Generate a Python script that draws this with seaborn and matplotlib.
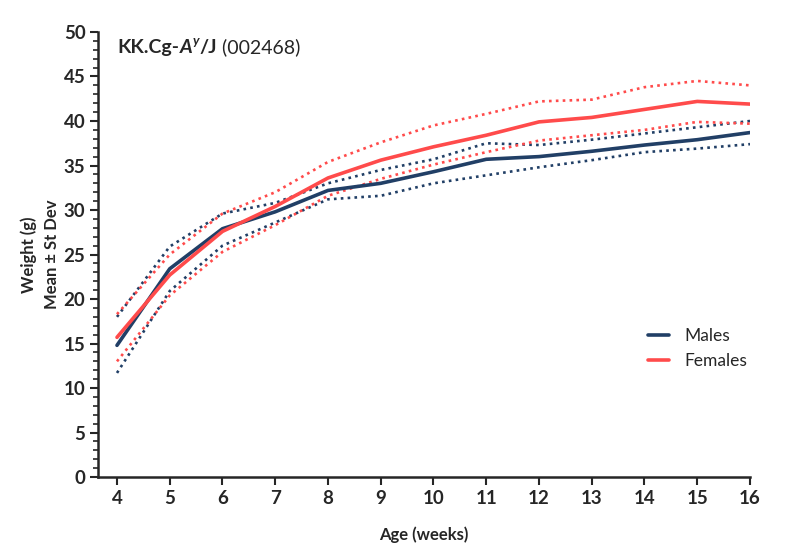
import numpy as np
import pandas as pd
import matplotlib
matplotlib.use('Agg')
import matplotlib.pyplot as plt
import seaborn as sns

# valores
weeks = [4, 5, 6, 7, 8, 9, 10, 11, 12, 13, 14, 15, 16]
males_mean = [14.8, 23.4, 27.9, 29.8, 32.2, 33.0, 34.3, 35.7, 36.0, 36.6, 37.3, 37.9, 38.7]
males_upper = [18.0, 25.9, 29.6, 30.8, 33.0, 34.5, 35.7, 37.5, 37.3, 37.9, 38.6, 39.3, 40.0]
males_lower = [11.7, 20.9, 26.0, 28.6, 31.2, 31.6, 33.0, 33.9, 34.8, 35.6, 36.5, 36.9, 37.4]
females_mean = [15.7, 22.7, 27.6, 30.4, 33.6, 35.6, 37.1, 38.4, 39.9, 40.4, 41.3, 42.2, 41.9]
females_upper = [18.3, 25.0, 29.6, 32.0, 35.4, 37.6, 39.5, 40.8, 42.2, 42.4, 43.8, 44.5, 44.0]
females_lower = [13.0, 20.4, 25.3, 28.3, 31.6, 33.5, 35.1, 36.5, 37.8, 38.4, 39.0, 39.9, 39.7]

navy = '#213f66'
red = '#ff4b4b'

sns.set_style('ticks')
plt.rcParams['font.family'] = ['Lato', 'DejaVu Sans']

df = pd.DataFrame({
    'week': weeks * 2,
    'weight': males_mean + females_mean,
    'sex': ['Males'] * len(weeks) + ['Females'] * len(weeks),
})

fig = plt.figure(figsize=(8, 5.58), dpi=100)
ax = fig.add_axes([0.1225, 0.145, 0.815, 0.7977])

dot = (0, (1, 1.6))
sns.lineplot(x=weeks, y=males_upper, color=navy, lw=1.9, linestyle=dot, ax=ax)
sns.lineplot(x=weeks, y=males_lower, color=navy, lw=1.9, linestyle=dot, ax=ax)
sns.lineplot(x=weeks, y=females_upper, color=red, lw=1.9, linestyle=dot, ax=ax)
sns.lineplot(x=weeks, y=females_lower, color=red, lw=1.9, linestyle=dot, ax=ax)
sns.lineplot(data=df, x='week', y='weight', hue='sex', palette={'Males': navy, 'Females': red},
             lw=2.6, ax=ax)

ax.set_xlim(3.64, 16)
ax.set_ylim(0, 50)
ax.set_xticks(weeks)
ax.set_yticks(range(0, 51, 5))
ax.set_yticks(range(0, 51, 1), minor=True)
ax.tick_params(axis='both', which='major', direction='out', length=6, width=1.5,
               labelsize=13.5, pad=3)
ax.tick_params(axis='y', which='minor', direction='out', length=3.5, width=1.2)
for lab in ax.get_xticklabels() + ax.get_yticklabels():
    lab.set_fontweight('bold')
for s in ['left', 'bottom']:
    ax.spines[s].set_linewidth(1.8)
sns.despine(ax=ax)

ax.set_xlabel('Age (weeks)', fontsize=12, fontweight='bold', labelpad=14)
ax.set_ylabel('Weight (g)\nMean ± St Dev', fontsize=12, fontweight='bold', labelpad=3,
              linespacing=1.5)

leg = ax.legend(loc='upper left', bbox_to_anchor=(0.82, 0.37), frameon=False,
                fontsize=12.5, handlelength=1.2, handletextpad=0.9, labelspacing=0.5)
for h in leg.get_lines():
    h.set_linewidth(2.6)

# titulo em partes (negrito, italico, sobrescrito)
t1 = ax.text(0.03, 0.965, 'KK.Cg-', transform=ax.transAxes, fontsize=14,
             fontweight='bold', va='center', ha='left')
t2 = ax.annotate('A', xy=(1, 0), xycoords=t1, fontsize=14, fontweight='bold',
                 style='italic', va='bottom', ha='left')
t3 = ax.annotate('y', xy=(1, 0.55), xycoords=t2, fontsize=9.5, fontweight='bold',
                 style='italic', va='bottom', ha='left')
t4 = ax.annotate('/J', xy=(1, 0), xycoords=t2, xytext=(5, 0), textcoords='offset points',
                 fontsize=14, fontweight='bold', va='bottom', ha='left')
t5 = ax.annotate(' (002468)', xy=(1, 0), xycoords=t4, fontsize=14, va='bottom', ha='left')

fig.savefig('out.png', dpi=100)
